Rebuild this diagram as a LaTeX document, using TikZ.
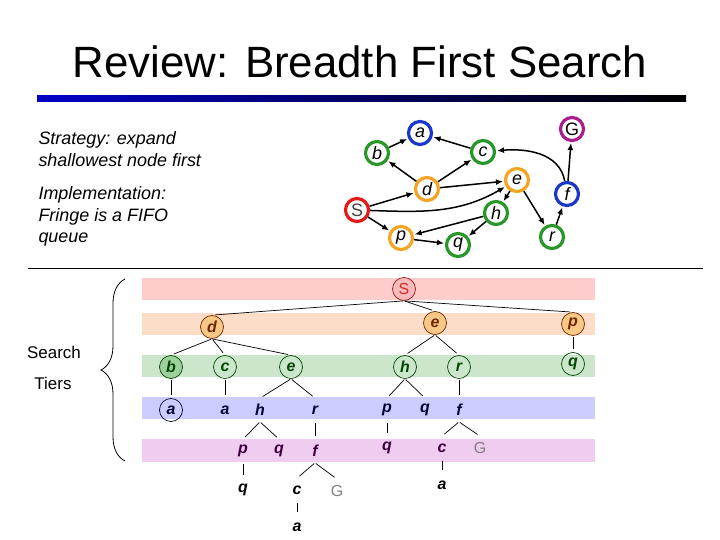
\documentclass[tikz,border=0pt]{standalone}
\usepackage{fontspec}
\setmainfont{Liberation Sans}
\usetikzlibrary{arrows.meta,decorations.pathreplacing}
\definecolor{gred}{RGB}{230,25,25}
\definecolor{gblue}{RGB}{25,55,200}
\definecolor{ggreen}{RGB}{40,150,40}
\definecolor{gorange}{RGB}{245,165,35}
\definecolor{gmag}{RGB}{170,30,140}
\definecolor{bandS}{RGB}{255,204,204}
\definecolor{bandA}{RGB}{252,222,200}
\definecolor{bandB}{RGB}{204,230,204}
\definecolor{bandC}{RGB}{204,204,255}
\definecolor{bandD}{RGB}{240,204,240}
\definecolor{inkS}{RGB}{215,40,40}
\definecolor{inkA}{RGB}{110,40,0}
\definecolor{inkB}{RGB}{0,70,0}
\definecolor{inkC}{RGB}{0,0,50}
\definecolor{inkD}{RGB}{60,0,60}
\definecolor{rulebl}{RGB}{0,0,200}
\begin{document}
\begin{tikzpicture}[x=1bp,y=-1bp,
  gnode/.style={circle,draw,line width=3.2bp,minimum size=23bp,inner sep=0pt,text=black,font=\fontsize{18}{18}\selectfont\itshape},
  gedge/.style={line width=1.5bp,-{Latex[length=7bp,width=6bp]},shorten >=1bp},
  tnode/.style={circle,minimum size=23bp,inner sep=0pt,line width=.7bp,font=\fontsize{16}{16}\selectfont\bfseries\itshape},
  tedge/.style={line width=.7bp,shorten <=1bp,shorten >=3bp},
  note/.style={anchor=base west,font=\fontsize{18}{22}\selectfont\itshape}]
\useasboundingbox (0,0) rectangle (720,540);
\node[anchor=base,font=\fontsize{44}{44}\selectfont] (title) at (360,78) {Review: Breadth First Search};
\shade[left color=rulebl,right color=black] (37,96) rectangle (686,102);
\node[note] (st1) at (35,145) {Strategy: expand};
\node[note] (st2) at (35,167) {shallowest node first};
\node[note] (im1) at (35,200) {Implementation:};
\node[note] (im2) at (35,222) {Fringe is a FIFO};
\node[note] (im3) at (35,243) {queue};
\node[gnode,draw=gblue] (a) at (420,133) {a};
\node[gnode,draw=gmag,font=\fontsize{18}{18}\selectfont] (G) at (572,129) {G};
\node[gnode,draw=ggreen] (b) at (377,153) {b};
\node[gnode,draw=ggreen] (c) at (483,152) {c};
\node[gnode,draw=gorange] (e) at (517,180) {e};
\node[gnode,draw=gorange] (d) at (427,189) {d};
\node[gnode,draw=gblue] (f) at (567,194) {f};
\node[gnode,draw=gred,text=black!75,font=\fontsize{18}{18}\selectfont] (S) at (357,210) {S};
\node[gnode,draw=ggreen] (h) at (496,213) {h};
\node[gnode,draw=gorange] (p) at (401,238) {p};
\node[gnode,draw=ggreen] (q) at (458,245) {q};
\node[gnode,draw=ggreen] (r) at (552,237) {r};
\draw[gedge] (b) -- (a);
\draw[gedge] (c) -- (a);
\draw[gedge] (d) -- (b);
\draw[gedge] (d) -- (c);
\draw[gedge] (d) -- (e);
\draw[gedge] (S) -- (d);
\draw[gedge] (S) to[out=-2,in=210] (e);
\draw[gedge] (S) -- (p);
\draw[gedge] (e) -- (h);
\draw[gedge] (e) -- (r);
\draw[gedge] (h) -- (p);
\draw[gedge] (h) -- (q);
\draw[gedge] (p) -- (q);
\draw[gedge] (r) -- (f);
\draw[gedge] (f) -- (G);
\draw[gedge] (f) to[out=100,in=5] (c);
\draw[line width=1bp] (28,268) -- (703,268);
\fill[bandS] (142,278) rectangle (595,300);
\fill[bandA] (142,313) rectangle (595,335);
\fill[bandB] (142,355) rectangle (595,377);
\fill[bandC] (142,397) rectangle (595,419);
\fill[bandD] (142,439) rectangle (595,462);
\draw[decorate,decoration={brace,amplitude=24bp},line width=.8bp] (125,461) -- (125,279);
\node[font=\fontsize{17}{17}\selectfont,anchor=base] (srch) at (54,358) {Search};
\node[font=\fontsize{17}{17}\selectfont,anchor=base] (tier) at (53,389) {Tiers};
\node[tnode,draw=inkS!70!black,fill=gred!30,text=inkS,font=\fontsize{16}{16}\selectfont] (tS) at (404,289) {S};
\node[tnode,draw=inkA,fill=gorange!40!bandA,text=inkA] (td) at (212,327) {d};
\node[tnode,draw=inkA,fill=gorange!40!bandA,text=inkA] (te) at (435,323) {e};
\node[tnode,draw=inkA,fill=gorange!40!bandA,text=inkA] (tp) at (573,324) {p};
\node[tnode,draw=inkB,fill=ggreen!45,text=inkB] (tb) at (171,367) {b};
\node[tnode,draw=inkB,text=inkB] (tc) at (225,367) {c};
\node[tnode,draw=inkB,text=inkB] (te2) at (291,367) {e};
\node[tnode,draw=inkB,text=inkB] (th) at (405,367) {h};
\node[tnode,draw=inkB,text=inkB] (tr) at (459,367) {r};
\node[tnode,draw=inkB,text=inkB] (tq) at (573,364) {q};
\node[tnode,draw=inkC,text=inkC] (ta) at (171,410) {a};
\node[tnode,text=inkC] (ta2) at (225,410) {a};
\node[tnode,text=inkC] (th3) at (260,410) {h};
\node[tnode,text=inkC] (tr3) at (315,410) {r};
\node[tnode,text=inkC] (tp3) at (387,410) {p};
\node[tnode,text=inkC] (tq3) at (425,410) {q};
\node[tnode,text=inkC] (tf3) at (459,410) {f};
\node[tnode,text=inkD] (tp4) at (243,451) {p};
\node[tnode,text=inkD] (tq4) at (279,451) {q};
\node[tnode,text=inkD] (tf4) at (315,451) {f};
\node[tnode,text=inkD] (tq4b) at (387,448) {q};
\node[tnode,text=inkD] (tc4) at (442,448) {c};
\node[tnode,text=black!50,font=\fontsize{16}{16}\selectfont] (tG4) at (480,448) {G};
\node[tnode] (tq5) at (243,490) {q};
\node[tnode] (tc5) at (297,490) {c};
\node[tnode,text=black!50,font=\fontsize{16}{16}\selectfont] (tG5) at (337,491) {G};
\node[tnode] (ta5) at (442,485) {a};
\node[tnode] (ta6) at (297,527) {a};
\foreach \u/\v in {tS/td,tS/te,tS/tp,td/tb,td/tc,td/te2,te/th,te/tr,tp/tq,
  tb/ta,tc/ta2,te2/th3,te2/tr3,th/tp3,th/tq3,tr/tf3,
  th3/tp4,th3/tq4,tr3/tf4,tp3/tq4b,tf3/tc4,tf3/tG4,
  tp4/tq5,tf4/tc5,tf4/tG5,tc4/ta5,tc5/ta6}
  \draw[tedge] (\u.south) -- (\v.north);
\end{tikzpicture}
\end{document}
